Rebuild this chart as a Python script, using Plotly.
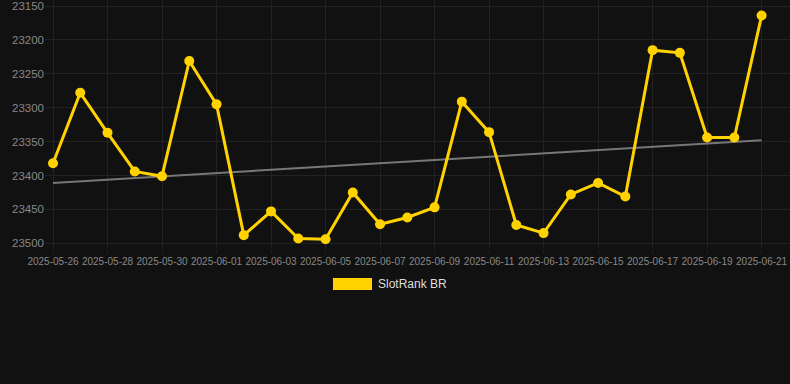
import plotly.graph_objects as go
import pandas as pd

dates = pd.date_range("2025-05-26", "2025-06-21", freq="D").strftime("%Y-%m-%d").tolist()
ranks = [23382, 23278, 23337, 23394, 23401, 23231, 23295, 23488, 23453, 23493,
         23494, 23425, 23472, 23462, 23447, 23291, 23336, 23473, 23485, 23428,
         23411, 23431, 23215, 23219, 23344, 23344, 23164]
trend_dates = ["2025-05-26", "2025-06-21"]
trend_values = [23411, 23348]
y_ticks = [23150, 23200, 23250, 23300, 23350, 23400, 23450, 23500]
series_name = "SlotRank BR"

GOLD = "#FFD200"
BG = "#111111"
W, H = 790, 384
L, R, T, B = 45, 0, 0, 136
pw, ph = W - L - R, H - T - B

fig = go.Figure()
fig.add_trace(go.Scatter(x=trend_dates, y=trend_values, mode="lines",
                         line=dict(color="#777777", width=2), showlegend=False,
                         hoverinfo="skip"))
fig.add_trace(go.Scatter(x=dates, y=ranks, mode="lines+markers", name=series_name,
                         line=dict(color=GOLD, width=3),
                         marker=dict(color=GOLD, size=10), showlegend=False))

def px_x(x):
    return (x - L) / pw

def px_y(y):
    return (T + ph - y) / ph

fig.add_shape(type="rect", xref="paper", yref="paper",
              x0=px_x(333), x1=px_x(372), y0=px_y(290), y1=px_y(278),
              fillcolor=GOLD, line=dict(width=0))
fig.add_annotation(xref="paper", yref="paper", x=px_x(376), y=px_y(284),
                   text=series_name, showarrow=False, xanchor="left", yanchor="middle",
                   font=dict(family="Arial, Liberation Sans, sans-serif", size=12, color="#dddddd"))

fig.update_layout(
    width=W, height=H,
    margin=dict(l=L, r=R, t=T, b=B, pad=0),
    paper_bgcolor=BG, plot_bgcolor=BG,
    font=dict(family="Arial, Liberation Sans, sans-serif", color="#888888"),
    showlegend=False,
    xaxis=dict(type="date",
               range=["2025-05-25 16:57", "2025-06-22 01:00"],
               tick0="2025-05-26", dtick=2 * 86400000, tickformat="%Y-%m-%d",
               showgrid=True, gridcolor="#222222", gridwidth=1,
               zeroline=False, showline=False,
               ticks="outside", ticklen=4, tickcolor="#222222",
               tickfont=dict(size=10, color="#888888")),
    yaxis=dict(range=[23507, 23141], tickvals=y_ticks, tickformat="d",
               showgrid=True, gridcolor="#222222", gridwidth=1,
               zeroline=False, showline=False,
               tickfont=dict(size=11.5, color="#888888")),
)

fig.write_html("out.html", config={"displayModeBar": False},
               post_script="document.body.style.margin='0';document.body.style.background='#111111';")
